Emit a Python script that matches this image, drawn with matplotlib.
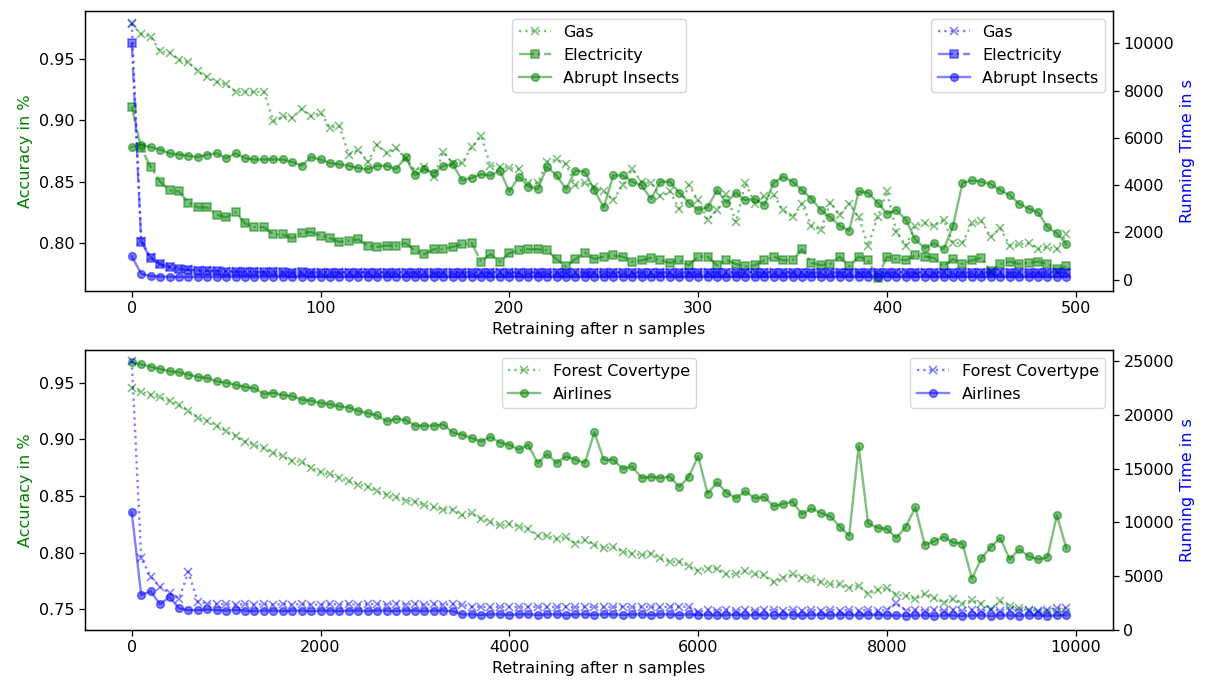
import numpy as np
import matplotlib
matplotlib.use("Agg")
import matplotlib.pyplot as plt

plt.rcParams['font.size'] = 11.5
plt.rcParams['axes.linewidth'] = 0.9
plt.rcParams['xtick.major.size'] = 4
plt.rcParams['ytick.major.size'] = 4
plt.rcParams['xtick.major.width'] = 0.9
plt.rcParams['ytick.major.width'] = 0.9

# top chart: retraining every 5 samples
x_top = np.arange(0, 500, 5)

gas_acc = [
    .978, .970, .968, .956, .955, .949, .947, .940, .935, .931,
    .929, .923, .923, .923, .923, .899, .903, .902, .909, .903,
    .906, .894, .895, .872, .876, .866, .880, .873, .877, .869,
    .859, .862, .854, .874, .865, .865, .878, .887, .863, .862,
    .861, .860, .849, .849, .866, .868, .864, .847, .849, .846,
    .842, .835, .847, .860, .850, .849, .838, .842, .828, .847,
    .835, .819, .827, .840, .817, .849, .832, .838, .839, .827,
    .821, .832, .814, .811, .833, .823, .832, .821, .798, .821,
    .842, .809, .798, .814, .816, .814, .819, .800, .800, .816,
    .818, .805, .812, .798, .799, .800, .795, .797, .795, .807]

elec_acc = [
    .911, .877, .862, .850, .843, .842, .833, .829, .829, .823,
    .821, .825, .816, .813, .813, .807, .807, .804, .808, .809,
    .806, .804, .801, .802, .803, .798, .797, .798, .798, .800,
    .794, .791, .795, .795, .797, .799, .800, .785, .791, .785,
    .792, .794, .795, .795, .794, .787, .781, .787, .792, .787,
    .789, .790, .789, .785, .786, .788, .786, .784, .786, .782,
    .789, .789, .782, .786, .783, .781, .782, .786, .789, .786,
    .786, .795, .784, .782, .783, .789, .781, .789, .786, .772,
    .789, .787, .786, .790, .789, .788, .781, .787, .783, .786,
    .788, .777, .783, .785, .783, .784, .785, .783, .779, .781]

insects_acc = [
    .878, .880, .878, .876, .873, .872, .871, .870, .872, .873,
    .869, .873, .869, .868, .868, .868, .868, .866, .863, .870,
    .868, .865, .864, .863, .861, .860, .863, .863, .860, .870,
    .855, .860, .857, .863, .864, .851, .853, .856, .855, .859,
    .842, .854, .846, .844, .862, .855, .844, .859, .858, .843,
    .829, .855, .855, .850, .847, .836, .850, .850, .841, .833,
    .827, .829, .843, .833, .841, .835, .836, .831, .849, .854,
    .850, .843, .836, .827, .821, .814, .810, .842, .841, .833,
    .824, .827, .819, .803, .796, .800, .795, .814, .849, .851,
    .850, .848, .843, .839, .832, .828, .825, .813, .808, .799]

gas_time = [
    10850, 1650, 950, 680, 540, 470, 430, 400, 390, 380,
    370, 360, 350, 350, 340, 345, 340, 335, 340, 330,
    335, 330, 325, 330, 335, 325, 330, 320, 330, 325,
    320, 330, 325, 320, 325, 330, 320, 325, 320, 330,
    325, 320, 330, 325, 320, 325, 330, 320, 325, 320,
    330, 325, 320, 325, 330, 320, 325, 320, 330, 325,
    320, 325, 330, 320, 325, 320, 330, 325, 320, 325,
    330, 320, 325, 320, 330, 325, 320, 325, 330, 320,
    325, 320, 330, 325, 320, 325, 330, 320, 325, 320,
    330, 325, 320, 325, 330, 320, 325, 320, 330, 325]

elec_time = [
    10030, 1600, 900, 650, 520, 450, 410, 380, 360, 350,
    340, 330, 320, 320, 310, 310, 305, 300, 305, 300,
    300, 295, 300, 295, 300, 295, 290, 300, 295, 290,
    295, 300, 290, 295, 290, 300, 295, 290, 295, 300,
    290, 295, 300, 290, 295, 290, 300, 295, 290, 295,
    300, 290, 295, 290, 300, 295, 290, 295, 300, 290,
    295, 290, 300, 295, 290, 295, 300, 290, 295, 290,
    300, 295, 290, 295, 300, 290, 295, 290, 300, 295,
    290, 295, 300, 290, 295, 290, 300, 295, 290, 295,
    300, 290, 295, 290, 300, 295, 290, 295, 300, 290]

insects_time = [
    990, 250, 150, 130, 125, 120, 120, 115, 120, 115,
    115, 120, 115, 110, 115, 120, 115, 110, 115, 115,
    120, 115, 110, 115, 120, 115, 110, 115, 120, 115,
    110, 115, 120, 115, 110, 115, 120, 115, 110, 115,
    120, 115, 110, 115, 120, 115, 110, 115, 120, 115,
    110, 115, 120, 115, 110, 115, 120, 115, 110, 115,
    120, 115, 110, 115, 120, 115, 110, 115, 120, 115,
    110, 115, 120, 115, 110, 115, 120, 115, 110, 115,
    120, 115, 110, 115, 120, 115, 110, 115, 120, 115,
    110, 115, 120, 115, 110, 115, 120, 115, 110, 115]

# bottom chart: retraining every 100 samples
x_bot = np.arange(0, 10000, 100)

forest_acc = [
    .945, .942, .939, .937, .934, .930, .925, .919, .916, .912,
    .907, .903, .898, .895, .892, .888, .885, .881, .880, .875,
    .871, .869, .866, .863, .860, .858, .854, .851, .849, .846,
    .845, .842, .840, .838, .838, .833, .835, .830, .827, .824,
    .825, .823, .821, .815, .815, .812, .814, .808, .811, .807,
    .804, .805, .801, .799, .798, .799, .795, .792, .792, .788,
    .784, .786, .786, .781, .781, .784, .781, .780, .774, .778,
    .781, .778, .777, .774, .772, .772, .769, .771, .764, .767,
    .769, .763, .762, .759, .764, .760, .756, .759, .755, .758,
    .755, .750, .757, .753, .751, .749, .748, .748, .748, .748]

airlines_acc = [
    .968, .966, .964, .962, .960, .959, .957, .955, .954, .951,
    .950, .948, .946, .945, .940, .941, .939, .938, .935, .934,
    .932, .931, .929, .928, .925, .923, .921, .916, .918, .917,
    .912, .912, .912, .913, .906, .904, .901, .898, .902, .897,
    .895, .891, .895, .879, .887, .879, .885, .882, .879, .906,
    .882, .882, .874, .876, .866, .867, .866, .867, .858, .867,
    .885, .852, .862, .853, .848, .854, .848, .849, .841, .843,
    .845, .834, .839, .835, .832, .823, .815, .894, .826, .822,
    .821, .813, .823, .840, .807, .810, .814, .809, .808, .777,
    .795, .805, .813, .794, .803, .797, .794, .796, .833, .804]

forest_time = [
    25000, 6650, 4950, 4000, 3400, 2900, 5400, 2600, 2450, 2400,
    2400, 2350, 2400, 2350, 2400, 2350, 2400, 2350, 2400, 2350,
    2350, 2400, 2350, 2400, 2350, 2400, 2400, 2350, 2450, 2350,
    2400, 2350, 2400, 2350, 2400, 2350, 2150, 2150, 2100, 2150,
    2150, 2100, 2150, 2150, 2100, 2150, 2150, 2100, 2150, 2150,
    2100, 2150, 2150, 2100, 2150, 2150, 2100, 2150, 2150, 2150,
    1700, 1850, 1800, 1850, 1800, 1850, 1800, 1850, 1850, 1800,
    1850, 1800, 1850, 1800, 1850, 1800, 1850, 1800, 1850, 1800,
    1850, 2500, 1800, 1850, 1800, 1850, 1800, 1850, 1750, 1850,
    1800, 1850, 1800, 1850, 1800, 1850, 1800, 1850, 2050, 2050]

airlines_time = [
    10920, 3230, 3600, 2370, 3080, 2000, 1840, 1840, 1900, 1850,
    1800, 1850, 1800, 1750, 1800, 1800, 1750, 1800, 1800, 1750,
    1800, 1800, 1750, 1800, 1800, 1750, 1800, 1800, 1750, 1800,
    1800, 1750, 1800, 1800, 1750, 1450, 1450, 1400, 1450, 1450,
    1400, 1450, 1450, 1400, 1450, 1450, 1400, 1450, 1450, 1400,
    1450, 1450, 1400, 1450, 1450, 1400, 1450, 1450, 1400, 1450,
    1400, 1400, 1350, 1400, 1400, 1350, 1400, 1400, 1350, 1400,
    1400, 1350, 1400, 1400, 1350, 1400, 1400, 1350, 1400, 1400,
    1350, 1350, 1300, 1350, 1350, 1300, 1350, 1350, 1300, 1350,
    1350, 1300, 1350, 1350, 1300, 1350, 1350, 1300, 1350, 1350]

ms = 5.5
lw = 1.7
mew = 1.15

fig, (ax_a, ax_b) = plt.subplots(2, 1, figsize=(12.08, 6.86), dpi=100)
fig.subplots_adjust(left=0.0704, right=0.9214, top=0.9844, bottom=0.0816, hspace=0.209)


def draw(ax, x, acc_list, time_list, labels, styles, ylim_l, ylim_r):
    ax2 = ax.twinx()
    for vals, lab, (ls, mk) in zip(acc_list, labels, styles):
        ax.plot(x, vals, linestyle=ls, marker=mk, color='green', alpha=0.5,
                label=lab, markersize=ms, linewidth=lw, markeredgewidth=mew)
    for vals, lab, (ls, mk) in zip(time_list, labels, styles):
        ax2.plot(x, vals, linestyle=ls, marker=mk, color='blue', alpha=0.5,
                 label=lab, markersize=ms, linewidth=lw, markeredgewidth=mew)
    ax.set_ylim(*ylim_l)
    ax2.set_ylim(*ylim_r)
    ax.set_xlabel("Retraining after n samples")
    ax.set_ylabel("Accuracy in %", color='green')
    ax2.set_ylabel("Running Time in s", color='blue')
    ax.legend(loc='upper center')
    ax2.legend(loc='upper right')
    return ax2


draw(ax_a, x_top, [gas_acc, elec_acc, insects_acc],
     [gas_time, elec_time, insects_time],
     ["Gas", "Electricity", "Abrupt Insects"],
     [(':', 'x'), ('-.', 's'), ('-', 'o')],
     (0.761, 0.989), (-483, 11381))

draw(ax_b, x_bot, [forest_acc, airlines_acc],
     [forest_time, airlines_time],
     ["Forest Covertype", "Airlines"],
     [(':', 'x'), ('-', 'o')],
     (0.7318, 0.979), (-10, 26060))

fig.savefig("out.png", dpi=100)
